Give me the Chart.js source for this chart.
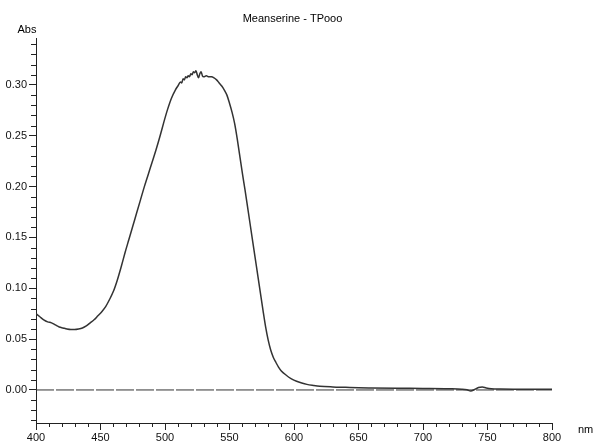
<!DOCTYPE html>
<html>
<head>
<meta charset="utf-8">
<script src="https://cdn.jsdelivr.net/npm/chart.js@4/dist/chart.umd.min.js"></script>
<style>
  html, body { margin: 0; padding: 0; background: #ffffff; }
  #wrap { width: 593px; height: 444px; }
</style>
</head>
<body>
<div id="wrap"><canvas id="c" width="593" height="444"></canvas></div>
<script>
const chartTitle = "Meanserine - TPooo";
const yAxisTitle = "Abs";
const xAxisTitle = "nm";

const wavelengths = [
  400,403,406,409,412,415,418,421,424,427,430,433,436,439,442,445,448,
  451,454,457,460,463,466,469,472,475,478,481,484,487,490,493,496,499,
  502,505,508,510,512,513,514,515,516,517,518,519,520,521,522,523,524,
  525,526,527,528,529,530,532,534,536,538,540,542,544,546,548,550,552,
  554,556,558,560,562,564,566,568,570,572,574,576,578,580,582,584,586,
  588,590,594,598,602,606,610,615,620,630,640,650,660,680,700,720,730,
  734,737,740,743,746,749,753,760,770,780,790,800
];
const absorbance = [
  0.075,0.072,0.069,0.067,0.066,0.064,0.062,0.061,0.060,0.0595,0.0595,0.060,0.061,0.063,0.066,0.069,0.073,
  0.077,0.082,0.089,0.097,0.108,0.121,0.135,0.148,0.161,0.174,0.187,0.200,0.212,0.224,0.236,0.249,0.263,
  0.276,0.287,0.295,0.299,0.303,0.302,0.306,0.305,0.308,0.307,0.309,0.308,0.311,0.310,0.313,0.312,0.314,
  0.310,0.307,0.311,0.313,0.309,0.308,0.309,0.308,0.308,0.307,0.305,0.302,0.299,0.295,0.290,0.282,0.273,
  0.262,0.247,0.230,0.213,0.197,0.180,0.163,0.146,0.129,0.112,0.095,0.078,0.062,0.049,0.039,0.032,0.027,
  0.0225,0.019,0.0145,0.011,0.0085,0.0068,0.0055,0.0045,0.0037,0.003,0.0026,0.0022,0.002,0.0017,0.0015,0.0012,0.0008,
  0.0002,-0.001,0.0005,0.0025,0.003,0.002,0.0012,0.0009,0.0008,0.0008,0.0008,0.0008
];
const zeroLineX = [400, 800];
const zeroLineY = [0, 0];
const xTickValues = [400, 450, 500, 550, 600, 650, 700, 750, 800];
const yTickValues = [0.00, 0.05, 0.10, 0.15, 0.20, 0.25, 0.30];
const xMinorStep = 10;
const yMinorStep = 0.01;

const FONT = "'Liberation Sans', Arial, sans-serif";

const minorTicks = {
  id: 'minorTicks',
  afterDraw(chart) {
    const ctx = chart.ctx;
    const xs = chart.scales.x, ys = chart.scales.y;
    ctx.save();
    ctx.strokeStyle = '#222';
    ctx.lineWidth = 1;
    ctx.beginPath();
    for (let v = xs.min; v <= xs.max + 1e-9; v += xMinorStep) {
      if (xTickValues.some(t => Math.abs(t - v) < 1e-6)) continue;
      const px = Math.round(xs.getPixelForValue(v)) + 0.5;
      ctx.moveTo(px, xs.top);
      ctx.lineTo(px, xs.top + 4);
    }
    const start = Math.ceil(ys.min / yMinorStep - 1e-9);
    const end = Math.floor(ys.max / yMinorStep + 1e-9);
    for (let i = start; i <= end; i++) {
      const v = i * yMinorStep;
      if (yTickValues.some(t => Math.abs(t - v) < 1e-6)) continue;
      const py = Math.round(ys.getPixelForValue(v)) + 0.5;
      ctx.moveTo(ys.right - 5, py);
      ctx.lineTo(ys.right, py);
    }
    ctx.stroke();
    ctx.fillStyle = '#000';
    ctx.font = '11px ' + FONT;
    ctx.textAlign = 'center';
    ctx.textBaseline = 'middle';
    ctx.fillText(chartTitle, (chart.width) / 2 - 4, 19);
    ctx.fillText(yAxisTitle, ys.right - 9, 30);
    ctx.textAlign = 'left';
    ctx.fillText(xAxisTitle, xs.right + 26, 430);
    ctx.restore();
  }
};

new Chart(document.getElementById('c'), {
  type: 'line',
  data: {
    datasets: [
      {
        data: wavelengths.map((w, i) => ({ x: w, y: absorbance[i] })),
        borderColor: '#333333',
        borderWidth: 1.5,
        pointRadius: 0,
        cubicInterpolationMode: 'monotone',
        fill: false
      },
      {
        data: zeroLineX.map((w, i) => ({ x: w, y: zeroLineY[i] })),
        borderColor: '#333',
        borderWidth: 1,
        borderDash: [18, 2],
        pointRadius: 0,
        fill: false
      }
    ]
  },
  options: {
    responsive: false,
    animation: false,
    events: [],
    layout: { padding: { left: 0, right: 41, top: 38, bottom: 0 } },
    plugins: { legend: { display: false }, title: { display: false }, tooltip: { enabled: false } },
    scales: {
      x: {
        type: 'linear',
        min: 400, max: 800,
        afterBuildTicks: s => { s.ticks = xTickValues.map(v => ({ value: v })); },
        afterFit: s => { s.height = 21; },
        grid: { drawOnChartArea: false, drawTicks: true, tickLength: 7, color: '#222', tickColor: '#222' },
        border: { display: true, color: '#222', width: 1 },
        ticks: { color: '#111', font: { family: FONT, size: 11 }, padding: 1, maxRotation: 0, autoSkip: false }
      },
      y: {
        type: 'linear',
        min: -0.0325, max: 0.3462,
        afterBuildTicks: s => { s.ticks = yTickValues.map(v => ({ value: v })); },
        afterFit: s => { s.width = 36; },
        grid: { drawOnChartArea: false, drawTicks: true, tickLength: 7, color: '#222', tickColor: '#222' },
        border: { display: true, color: '#222', width: 1 },
        ticks: { color: '#111', font: { family: FONT, size: 11 }, padding: 2, callback: v => Number(v).toFixed(2) }
      }
    }
  },
  plugins: [minorTicks]
});
</script>
</body>
</html>
